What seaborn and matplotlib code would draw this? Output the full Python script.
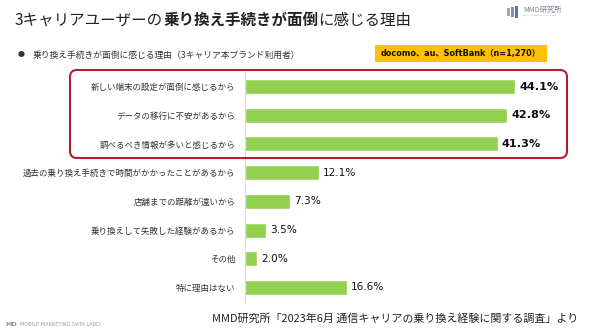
import matplotlib
matplotlib.use("Agg")
import matplotlib.pyplot as plt
import matplotlib.transforms as mtransforms
from matplotlib.patches import FancyBboxPatch, Rectangle
import seaborn as sns
import pandas as pd

# Survey answers (share of respondents, %)
reasons = [
    "新しい端末の設定が面倒に感じるから",
    "データの移行に不安があるから",
    "調べるべき情報が多いと感じるから",
    "過去の乗り換え手続きで時間がかかったことがあるから",
    "店舗までの距離が遠いから",
    "乗り換えして失敗した経験があるから",
    "その他",
    "特に理由はない",
]
shares = [44.1, 42.8, 41.3, 12.1, 7.3, 3.5, 2.0, 16.6]
highlighted = 3  # the first three reasons are framed and labelled in bold

title_parts = [("3キャリアユーザーの", "normal"),
               ("乗り換え手続きが面倒", "bold"),
               ("に感じる理由", "normal")]
subtitle = "乗り換え手続きが面倒に感じる理由（3キャリア本ブランド利用者）"
sample_note = "docomo、au、SoftBank（n=1,270）"
source_note = "MMD研究所「2023年6月 通信キャリアの乗り換え経験に関する調査」より"

sns.set_style("white")
plt.rcParams["font.family"] = ["Noto Sans CJK JP", "DejaVu Sans"]

W, H = 590, 331
fig = plt.figure(figsize=(W / 100, H / 100), dpi=100)
fig.patch.set_facecolor("white")

# pixel coordinates (origin top-left) for annotations around the chart
px = mtransforms.Affine2D().scale(1 / W, -1 / H).translate(0, 1) + fig.transFigure

ax_top, ax_bot = 72.2, 301.8
ax = fig.add_axes([245 / W, 1 - ax_bot / H, 306 / W, (ax_bot - ax_top) / H])

df = pd.DataFrame({"reason": reasons, "share": shares})
sns.barplot(data=df, x="share", y="reason", orient="h", color="#92D050",
            width=0.52, saturation=1, ax=ax)
ax.set_xlim(0, 50)
ax.set_ylim(len(reasons) - 0.5, -0.5)
ax.set_xlabel("")
ax.set_ylabel("")
ax.set_xticks([])
for s in ["top", "right", "bottom"]:
    ax.spines[s].set_visible(False)
ax.spines["left"].set_color("#D9D9D9")
ax.spines["left"].set_linewidth(0.8)
ax.tick_params(axis="y", length=0, pad=7, labelsize=6.1, labelcolor="#333333")

for i, v in enumerate(shares):
    bold = i < highlighted
    ax.annotate(f"{v:.1f}%", xy=(v, i), xytext=(3, 0), textcoords="offset points",
                ha="left", va="center",
                fontsize=8.1 if bold else 7.6,
                fontweight="bold" if bold else "normal",
                family=["DejaVu Sans"], color="#111111")

# frame around the top three reasons
fig.add_artist(FancyBboxPatch((70, 70), 497, 88,
                              boxstyle="round,pad=0,rounding_size=7",
                              transform=px, fill=False, edgecolor="#B01F2A",
                              linewidth=1.5, zorder=5))

# title, mixing regular and bold runs
fig.canvas.draw()
renderer = fig.canvas.get_renderer()
x = 15
for part, weight in title_parts:
    t = fig.text(x / W, 1 - 20 / H, part, fontsize=11.2, fontweight=weight,
                 color="#222222", va="center", ha="left")
    bb = t.get_window_extent(renderer)
    x += bb.width

fig.text(18 / W, 1 - 55 / H, "●", fontsize=5, color="#333333", va="center", ha="left")
fig.text(33 / W, 1 - 55 / H, subtitle, fontsize=6.35, color="#333333",
         va="center", ha="left")

# sample size badge
fig.add_artist(Rectangle((375, 45), 172, 17, transform=px,
                         facecolor="#FFC000", edgecolor="none"))
fig.text(461 / W, 1 - 53.5 / H, sample_note, fontsize=5.9, fontweight="bold",
         family=["DejaVu Sans", "Noto Sans CJK JP"], color="#111111",
         va="center", ha="center")

fig.text(578 / W, 1 - 319 / H, source_note, fontsize=7.9, color="#222222",
         va="center", ha="right")

# lab marks, top right and bottom left
for k, (h, c) in enumerate([(8, "#9AA6C8"), (10, "#7F8DB8"), (12, "#5E6FA8")]):
    fig.add_artist(Rectangle((507 + k * 4, 12 - h / 2), 3, h, transform=px,
                             facecolor=c, edgecolor="none"))
fig.text(523 / W, 1 - 10 / H, "MMD研究所", fontsize=5.2, color="#7A7F92",
         va="center", ha="left")
fig.text(523 / W, 1 - 16 / H, "MOBILE MARKETING DATA LABO.", fontsize=1.6,
         color="#A0A4B0", va="center", ha="left")

fig.text(5 / W, 1 - 324 / H, "MD", fontsize=4.6, fontweight="bold",
         color="#8A8FA8", va="center", ha="left", family=["DejaVu Sans"])
fig.text(20 / W, 1 - 324 / H, "MOBILE MARKETING DATA LABO.", fontsize=3.6,
         color="#9A9A9A", va="center", ha="left", family=["DejaVu Sans"])

fig.savefig("out.png", dpi=100, facecolor="white")
